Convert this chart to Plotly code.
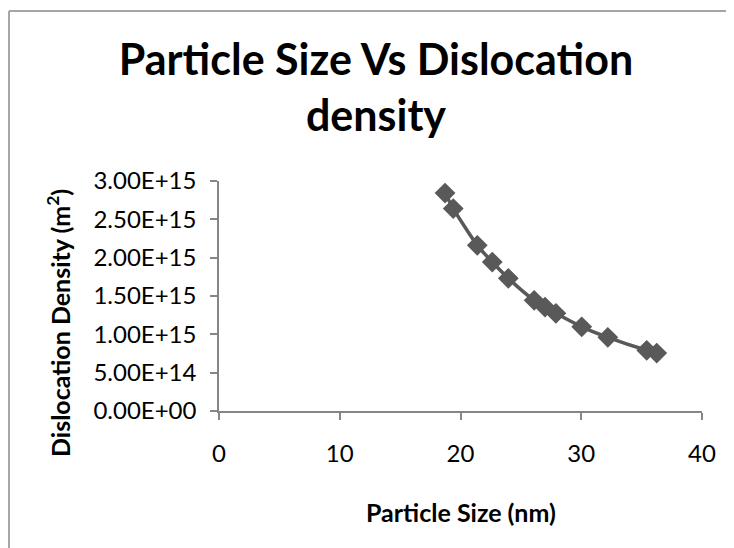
import plotly.graph_objects as go

# Data
particle_size_nm = [18.72, 19.40, 21.39, 22.63, 23.96, 26.10, 27.00, 27.90, 30.04, 32.20, 35.42, 36.25]
dislocation_density = [2.843e15, 2.640e15, 2.161e15, 1.943e15, 1.731e15, 1.444e15,
                       1.356e15, 1.274e15, 1.098e15, 0.961e15, 0.792e15, 0.756e15]

x_ticks = [0, 10, 20, 30, 40]
y_ticks = [0, 5e14, 1e15, 1.5e15, 2e15, 2.5e15, 3e15]
y_tick_labels = ["0.00E+00", "5.00E+14", "1.00E+15", "1.50E+15", "2.00E+15", "2.50E+15", "3.00E+15"]

title_text = "Particle Size Vs Dislocation<br>density"
x_title = "Particle Size (nm)"
y_title = "Dislocation Density (m<sup>2</sup>)"

FONT = "Lato"
# page body has an 8px margin: figure coordinates = page coordinates - 8
W, H = 726, 540
L, T = 211, 173
pw, ph = 483, 230
R = W - L - pw
B = H - T - ph

fig = go.Figure()
fig.add_trace(go.Scatter(
    x=particle_size_nm, y=dislocation_density,
    mode="lines+markers",
    line=dict(color="#595959", width=3.5, shape="spline", smoothing=0.6),
    marker=dict(symbol="diamond", size=16, color="#595959"),
    showlegend=False,
))

axis_common = dict(
    showgrid=False, zeroline=False, showline=True,
    linecolor="#868686", linewidth=1.5,
    ticks="outside", ticklen=7, tickwidth=1.5, tickcolor="#868686",
    tickfont=dict(family=FONT, size=24, color="#000000"),
)

fig.update_layout(
    width=W, height=H,
    margin=dict(l=L, r=R, t=T, b=B),
    paper_bgcolor="white", plot_bgcolor="white",
    title=dict(
        text=title_text,
        font=dict(family=FONT, size=43, color="#000000", weight="bold"),
        x=368 / W, xref="container", xanchor="center",
        y=1 - 67 / H, yref="container", yanchor="middle",
    ),
    xaxis=dict(
        range=[0, 40], tickvals=x_ticks, ticklabelstandoff=13,
        **axis_common,
    ),
    yaxis=dict(
        range=[0, 3e15], tickvals=y_ticks, ticktext=y_tick_labels,
        ticklabelstandoff=9,
        **axis_common,
    ),
    font=dict(family=FONT),
)

# axis titles as annotations to match placement
fig.add_annotation(
    text=x_title, xref="paper", yref="paper",
    x=0.5, y=(T + ph - 504) / ph, xanchor="center", yanchor="middle",
    showarrow=False, font=dict(family=FONT, size=25, color="#000000", weight="bold"),
)
fig.add_annotation(
    text=y_title, xref="paper", yref="paper",
    x=(50 - L) / pw, y=(T + ph - 315) / ph, xanchor="center", yanchor="middle",
    textangle=-90,
    showarrow=False, font=dict(family=FONT, size=25, color="#000000", weight="bold"),
)

# chart-area border: only the top and left edges are visible in the picture
bx0 = (1 - L) / pw
by0 = (T + ph - 3) / ph
fig.add_shape(type="line", xref="paper", yref="paper",
              x0=bx0, x1=(W - L) / pw, y0=by0, y1=by0,
              line=dict(color="#a6a6a6", width=2), layer="below")
fig.add_shape(type="line", xref="paper", yref="paper",
              x0=bx0, x1=bx0, y0=by0, y1=(T + ph - H) / ph,
              line=dict(color="#a6a6a6", width=2), layer="below")

fig.write_html(
    "out.html",
    post_script="document.documentElement.style.overflow='hidden';document.body.style.overflow='hidden';",
)
